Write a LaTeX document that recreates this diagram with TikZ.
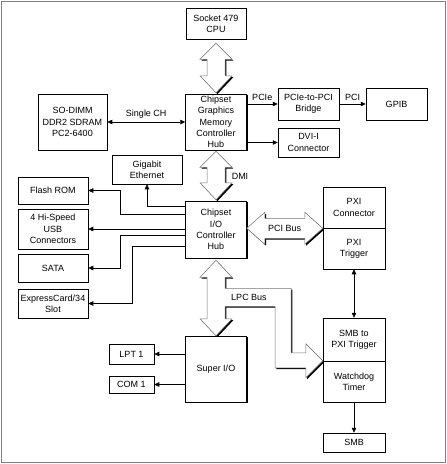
\documentclass[tikz,border=0pt]{standalone}
\usepackage{fontspec}
\setmainfont{Liberation Sans}
\usetikzlibrary{calc, positioning}
\usetikzlibrary{arrows.meta}
\usetikzlibrary{shadows}

\tikzset{
  blk/.style={draw, fill=white, line width=0.5pt, align=center, inner sep=1pt,
    font=\fontsize{9}{11.3}\selectfont,
    drop shadow={shadow xshift=1.3pt, shadow yshift=-1.3pt, fill=black, opacity=1}},
  conn/.style={line width=0.6pt, >={Triangle[length=5pt, width=4.5pt]}},
  bigarrow/.style={draw=black!55, fill=white, line width=0.5pt,
    drop shadow={shadow xshift=1.4pt, shadow yshift=-1.4pt, fill=black, opacity=1}},
  lbl/.style={font=\fontsize{9}{11}\selectfont, inner sep=1pt}
}

\begin{document}
\begin{tikzpicture}[x=1pt, y=-1pt]
\useasboundingbox (0,0) rectangle (447,464);
\draw[black!50, line width=1.5pt] (1.5,1.5) rectangle (445.5,462.5);

\node[blk, minimum width=60pt, minimum height=31pt] (cpu) at (216,23.5) {Socket 479\\CPU};
\node[blk, minimum width=61pt, minimum height=56pt] (mch) at (216,122) {Chipset\\Graphics\\Memory\\Controller\\Hub};
\node[blk, minimum width=69pt, minimum height=56pt] (sodimm) at (72.5,122) {SO-DIMM\\DDR2 SDRAM\\PC2-6400};
\node[blk, minimum width=61pt, minimum height=32pt] (bridge) at (308.5,104) {PCIe-to-PCI\\Bridge};
\node[blk, minimum width=61pt, minimum height=32pt] (gpib) at (396.5,104) {GPIB};
\node[blk, minimum width=61pt, minimum height=29pt] (dvi) at (308.5,142.5) {DVI-I\\Connector};
\node[blk, minimum width=70pt, minimum height=29pt] (gbe) at (147,169.5) {Gigabit\\Ethernet};
\node[blk, minimum width=61pt, minimum height=57pt] (ich) at (216,229.5) {Chipset\\I/O\\Controller\\Hub};
\node[blk, minimum width=70pt, minimum height=27pt] (flash) at (53,190.5) {Flash ROM};
\node[blk, minimum width=70pt, minimum height=40pt] (usb) at (53,229) {4 Hi-Speed\\USB\\Connectors};
\node[blk, minimum width=70pt, minimum height=28pt] (sata) at (53,268) {SATA};
\node[blk, minimum width=70pt, minimum height=29pt] (expr) at (53,303.5) {ExpressCard/34\\Slot};
\node[blk, minimum width=62pt, minimum height=41pt] (pxic) at (354,207.5) {PXI\\Connector};
\node[blk, minimum width=62pt, minimum height=41pt] (pxit) at (354,248.5) {PXI\\Trigger};
\node[blk, minimum width=62pt, minimum height=43pt] (smbt) at (354,339.5) {SMB to\\PXI Trigger};
\node[blk, minimum width=62pt, minimum height=41pt] (wdt) at (354,381.5) {Watchdog\\Timer};
\node[blk, minimum width=62pt, minimum height=19pt] (smb) at (354,442.5) {SMB};
\node[blk, minimum width=61pt, minimum height=66pt] (sio) at (216,369) {Super I/O};
\node[blk, minimum width=45pt, minimum height=20pt] (lpt) at (131.5,354) {LPT 1};
\node[blk, minimum width=45pt, minimum height=17pt] (com) at (131.5,384.5) {COM 1};

\coordinate (cpuA) at ($(cpu.south)+(0,4)$);
\coordinate (cpuB) at ($(mch.north)+(0,-1)$);
\coordinate (dmiA) at ($(mch.south)+(0,1)$);
\coordinate (dmiB) at ($(ich.north)+(0,-1)$);
\coordinate (pciB) at (pxic.south west);
\coordinate (pciA) at (pciB -| ich.east);
\coordinate (lpcA) at ($(ich.south)+(0,2)$);
\coordinate (lpcB) at (sio.north);
\coordinate (lpcC) at (wdt.north west);

\draw[bigarrow] (cpuA) -- ++(16,16) -- ++(-7,0) -- ($(cpuB)+(9,-17)$) -- ++(7,0) -- (cpuB)
  -- ++(-16,-17) -- ++(7,0) -- ($(cpuA)+(-9,16)$) -- ++(-7,0) -- cycle;
\draw[bigarrow] (dmiA) -- ++(16,16) -- ++(-7,0) -- ($(dmiB)+(9,-17)$) -- ++(7,0) -- (dmiB)
  -- ++(-16,-17) -- ++(7,0) -- ($(dmiA)+(-9,16)$) -- ++(-7,0) -- cycle;
\draw[bigarrow] (pciA) -- ++(18,-16) -- ++(0,6) -- ($(pciB)+(-18,-10)$) -- ++(0,-6) -- (pciB)
  -- ++(-18,16) -- ++(0,-6) -- ($(pciA)+(18,10)$) -- ++(0,6) -- cycle;
\draw[bigarrow] (lpcA) -- ++(16,17) -- ++(-7,0) -- ++(0,11) -- ++(66,0) |- ($(lpcC)+(-17,-8)$)
  -- ++(0,-9) -- (lpcC) -- ++(-17,17) -- ++(0,-10) -| ($(lpcA)+(59,46)$) -- ++(-50,0)
  |- ($(lpcB)+(9,-17)$) -- ++(7,0) -- (lpcB) -- ++(-16,-17) -- ++(7,0)
  |- ($(lpcA)+(-16,17)$) -- cycle;

\node[lbl] (dmilbl) at ($(dmiA)!0.5!(dmiB)+(24,1)$) {DMI};
\node[lbl] (pcibus) at ($(pciA)!0.5!(pciB)$) {PCI Bus};
\node[lbl] (lpcbus) at ($(lpcA)+(33,37)$) {LPC Bus};

\draw[conn, <->] (sodimm) -- (mch) node[lbl, midway, above=2pt] {Single CH};
\draw[conn, ->] (bridge.west -| mch.east) -- (bridge) node[lbl, midway, above=2pt] {PCIe};
\draw[conn, ->] (bridge) -- (gpib) node[lbl, midway, above=2pt] {PCI};
\draw[conn, ->] (dvi.west -| mch.east) -- (dvi);

\draw[conn, ->] ($(ich.north west)+(0,6)$) -| (gbe);
\draw[conn, ->] ($(ich.north west)+(0,14)$) -- ++(-65,0) |- (flash);
\draw[conn, ->] (usb.east -| ich.west) -- (usb);
\draw[conn, ->] ($(ich.north west)+(0,35)$) -- ++(-65,0) |- (sata);
\draw[conn, ->] ($(ich.north west)+(0,46)$) -- ++(-53,0) |- (expr);

\draw[conn, ->] (lpt.east -| sio.west) -- (lpt);
\draw[conn, ->] (com.east -| sio.west) -- (com);
\draw[conn, <->] (pxit) -- (smbt);
\draw[conn, ->] (wdt) -- (smb);
\end{tikzpicture}
\end{document}
